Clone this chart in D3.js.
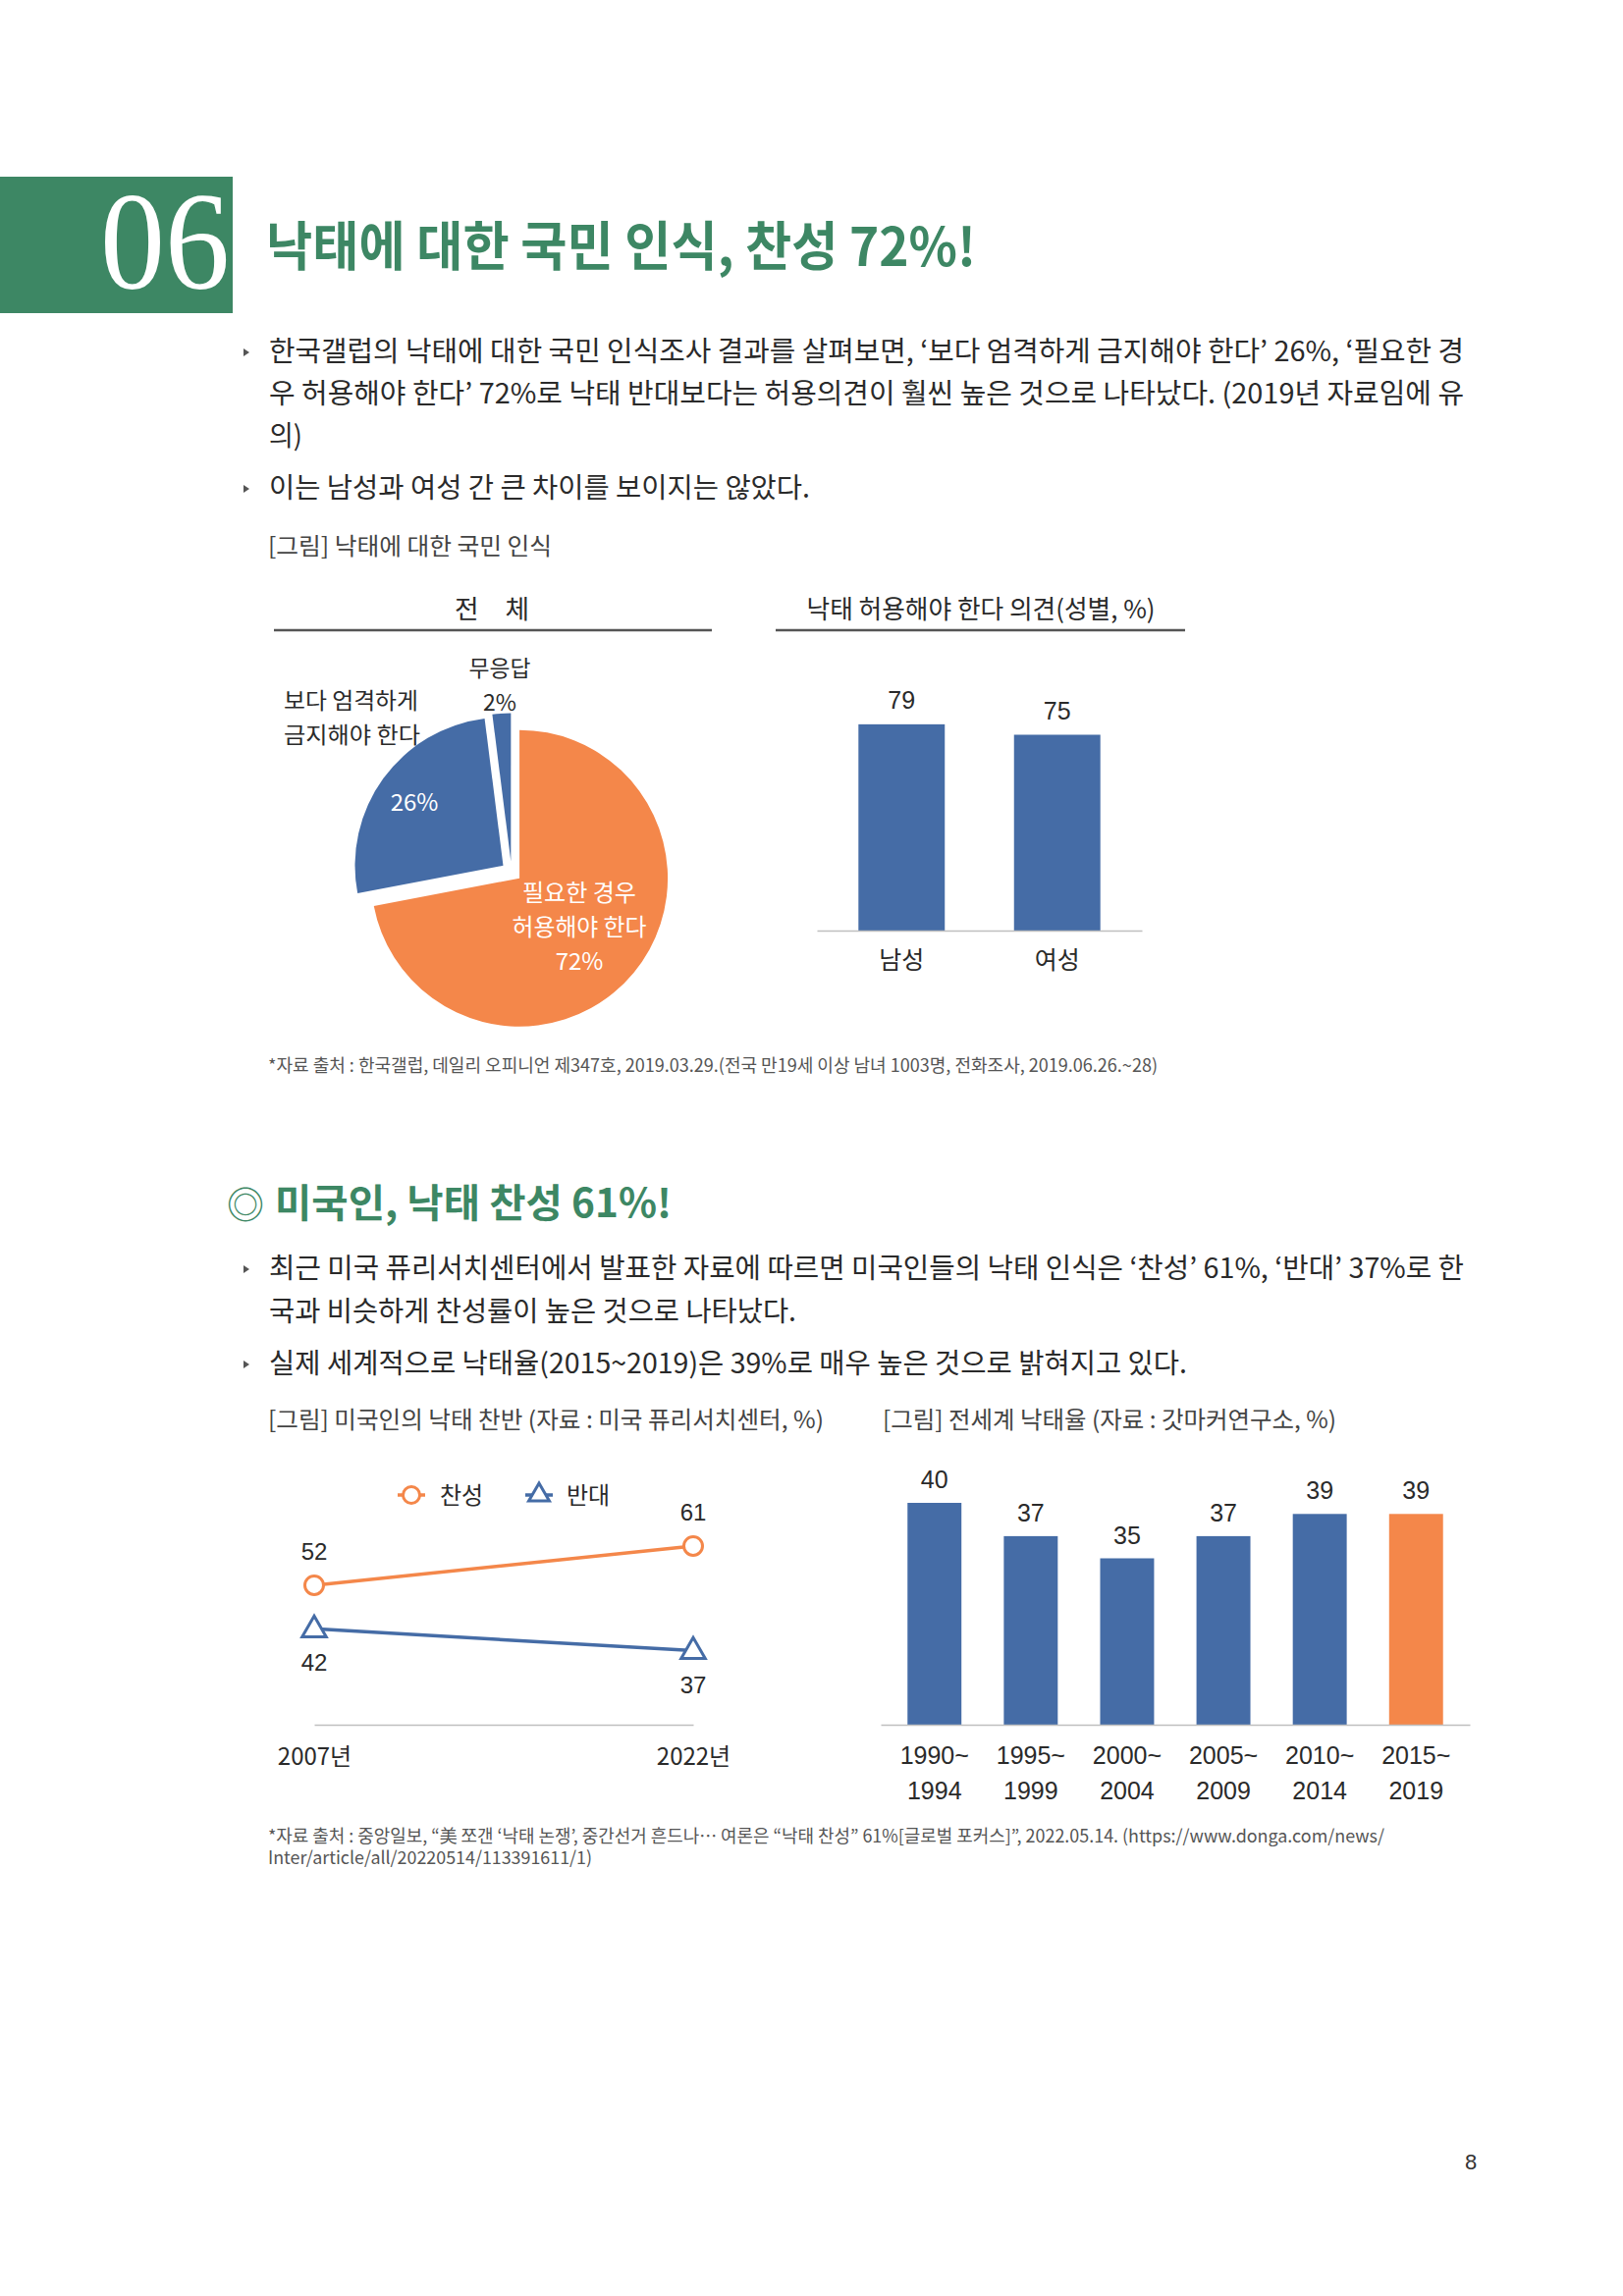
<!DOCTYPE html>
<html><head><meta charset="utf-8">
<script src="https://cdn.jsdelivr.net/npm/d3@7"></script>
<style>
html,body{margin:0;padding:0;background:#fff;}
svg{display:block;}
</style></head>
<body>
<svg id="page" width="1653" height="2339" xmlns="http://www.w3.org/2000/svg"></svg>
<script>
// ---------------- DATA ----------------
const pieCategories = ["필요한 경우 허용해야 한다", "보다 엄격하게 금지해야 한다", "무응답"];
const pieValues = [72, 26, 2];
const genderCategories = ["남성", "여성"];
const genderValues = [79, 75];
const lineYears = ["2007년", "2022년"];
const lineSeries = ["찬성", "반대"];
const favorValues = [52, 61];
const opposeValues = [42, 37];
const worldPeriodStart = ["1990~", "1995~", "2000~", "2005~", "2010~", "2015~"];
const worldPeriodEnd = ["1994", "1999", "2004", "2009", "2014", "2019"];
const worldValues = [40, 37, 35, 37, 39, 39];

const body1 = [
  "한국갤럽의 낙태에 대한 국민 인식조사 결과를 살펴보면, ‘보다 엄격하게 금지해야 한다’ 26%, ‘필요한 경",
  "우 허용해야 한다’ 72%로 낙태 반대보다는 허용의견이 훨씬 높은 것으로 나타났다. (2019년 자료임에 유",
  "의)",
  "이는 남성과 여성 간 큰 차이를 보이지는 않았다."
];
const body2 = [
  "최근 미국 퓨리서치센터에서 발표한 자료에 따르면 미국인들의 낙태 인식은 ‘찬성’ 61%, ‘반대’ 37%로 한",
  "국과 비슷하게 찬성률이 높은 것으로 나타났다.",
  "실제 세계적으로 낙태율(2015~2019)은 39%로 매우 높은 것으로 밝혀지고 있다."
];

// ---------------- STYLE ----------------
const svg = d3.select("#page");
const FONT = "'Noto Sans CJK KR','Noto Sans',sans-serif";
const NUMFONT = "'Liberation Sans','Noto Sans CJK KR',sans-serif";
const GREEN = "#3d8764", BLUE = "#456ca6", ORANGE = "#f4874a", TEXT = "#2a2a2a";

function txt(g, s, x, y, o = {}) {
  const t = g.append("text").attr("x", x).attr("y", y).text(s)
    .attr("font-family", o.ff || FONT).attr("font-size", o.fs || 28)
    .attr("fill", o.fill || TEXT).attr("text-anchor", o.anchor || "start");
  if (o.fw) t.attr("font-weight", o.fw);
  if (o.len) t.attr("textLength", o.len).attr("lengthAdjust", "spacingAndGlyphs");
  return t;
}
function bullet(g, x, base) {
  const c = base - 9;
  g.append("path").attr("d", `M${x},${c - 4}L${x + 6},${c}L${x},${c + 4}Z`).attr("fill", "#555");
}

// ---------------- HEADER ----------------
svg.append("rect").attr("x", 0).attr("y", 180).attr("width", 237).attr("height", 139).attr("fill", GREEN);
txt(svg, "06", 102, 294, { ff: "'Liberation Serif',serif", fs: 141, fill: "#fff", len: 132 });
txt(svg, "낙태에 대한 국민 인식, 찬성 72%!", 271, 271, { fs: 54, fw: 700, fill: GREEN, len: 723 });

// body text section 1
const b1y = [368, 411, 454, 507], b1w = [1217, 1217, 34, 551];
body1.forEach((s, i) => {
  if (i === 0 || i === 3) bullet(svg, 248, b1y[i]);
  txt(svg, s, 274, b1y[i], { fs: 28, len: b1w[i] });
});
txt(svg, "[그림] 낙태에 대한 국민 인식", 273, 565, { fs: 24, fill: "#444", len: 289 });

// ---------------- PIE ----------------
const gp = svg.append("g");
txt(gp, "전　체", 501, 630, { fs: 26, anchor: "middle", len: 76 });
gp.append("line").attr("x1", 279).attr("x2", 725).attr("y1", 642).attr("y2", 642)
  .attr("stroke", "#555").attr("stroke-width", 2.5);
const pcx = 521, pcy = 888, pr = 151, explode = 10.5;
const pie = d3.pie().sort(null).value(d => d)(pieValues);
const arc = d3.arc().innerRadius(0).outerRadius(pr);
const pieColors = [ORANGE, BLUE, BLUE];
gp.selectAll("path.slice").data(pie).join("path").attr("class", "slice")
  .attr("d", arc).attr("fill", (d, i) => pieColors[i])
  .attr("transform", d => {
    const m = (d.startAngle + d.endAngle) / 2;
    return `translate(${pcx + Math.sin(m) * explode},${pcy - Math.cos(m) * explode})`;
  });
// labels
[["필요한 경우", 918, 116], ["허용해야 한다", 953, 137], [pieValues[0] + "%", 988, 0]].forEach(([s, y, w]) =>
  txt(gp, s, 590, y, { fs: 24, fill: "#fff", anchor: "middle", len: w || null }));
txt(gp, pieValues[1] + "%", 422, 826, { fs: 24, fill: "#fff", anchor: "middle" });
txt(gp, "보다 엄격하게", 289, 722, { fs: 23, len: 137 });
txt(gp, "금지해야 한다", 289, 757, { fs: 23, len: 139 });
txt(gp, pieCategories[2], 509, 689, { fs: 23, anchor: "middle", len: 63 });
txt(gp, pieValues[2] + "%", 509, 724, { fs: 23, anchor: "middle" });

// ---------------- GENDER BARS ----------------
const gg = svg.append("g");
txt(gg, "낙태 허용해야 한다 의견(성별, %)", 999, 630, { fs: 26, anchor: "middle", len: 355 });
gg.append("line").attr("x1", 790).attr("x2", 1207).attr("y1", 642).attr("y2", 642)
  .attr("stroke", "#555").attr("stroke-width", 2.5);
const gx = d3.scaleBand().domain(genderCategories).range([832, 1163]).paddingInner(0.445).paddingOuter(0.267);
const gy = d3.scaleLinear().domain([0, 100]).range([948, 682]);
gg.selectAll("rect").data(genderValues).join("rect")
  .attr("x", (d, i) => gx(genderCategories[i])).attr("width", gx.bandwidth())
  .attr("y", d => gy(d)).attr("height", d => gy(0) - gy(d)).attr("fill", BLUE);
gg.selectAll("text.v").data(genderValues).join("text").attr("class", "v")
  .attr("x", (d, i) => gx(genderCategories[i]) + gx.bandwidth() / 2).attr("y", d => gy(d) - 16)
  .attr("text-anchor", "middle").attr("font-family", NUMFONT).attr("font-size", 25).attr("fill", TEXT)
  .text(d => d);
const gax = gg.append("g").attr("transform", `translate(0,${gy(0)})`)
  .call(d3.axisBottom(gx).tickSize(0).tickSizeOuter(0).tickPadding(0));
gax.select(".domain").attr("stroke", "#bfbfbf").attr("stroke-width", 1.5);
gax.selectAll("text").attr("dy", null).attr("y", 39).attr("font-family", FONT).attr("font-size", 25).attr("fill", TEXT);

txt(svg, "*자료 출처 : 한국갤럽, 데일리 오피니언 제347호, 2019.03.29.(전국 만19세 이상 남녀 1003명, 전화조사, 2019.06.26.~28)",
  273, 1092, { fs: 18, fill: "#555", len: 906 });

// ---------------- SECTION 2 ----------------
txt(svg, "◎", 231, 1241, { fs: 38, fill: GREEN });
txt(svg, "미국인, 낙태 찬성 61%!", 280, 1240, { fs: 40, fw: 700, fill: GREEN, len: 404 });
const b2y = [1302, 1346, 1399], b2w = [1217, 537, 935];
body2.forEach((s, i) => {
  if (i !== 1) bullet(svg, 248, b2y[i]);
  txt(svg, s, 274, b2y[i], { fs: 28, len: b2w[i] });
});
txt(svg, "[그림] 미국인의 낙태 찬반 (자료 : 미국 퓨리서치센터, %)", 273, 1455, { fs: 24, fill: "#444", len: 566 });
txt(svg, "[그림] 전세계 낙태율 (자료 : 갓마커연구소, %)", 899, 1455, { fs: 24, fill: "#444", len: 462 });

// ---------------- LINE CHART ----------------
const gl = svg.append("g");
const lx = d3.scalePoint().domain(lineYears).range([320, 706]);
const ly = d3.scaleLinear().domain([20, 70]).range([1757, 1535]);
const lax = gl.append("g").attr("transform", `translate(0,${ly(20)})`)
  .call(d3.axisBottom(lx).tickSize(0).tickSizeOuter(0).tickPadding(0));
lax.select(".domain").attr("stroke", "#bfbfbf").attr("stroke-width", 1.5);
lax.selectAll("text").attr("dy", null).attr("y", 41).attr("font-family", FONT).attr("font-size", 24).attr("fill", TEXT);

const lineGen = d3.line().x((d, i) => lx(lineYears[i])).y(d => ly(d));
const triPath = d3.symbol().type(d3.symbolTriangle).size(260);
const series = [
  { name: lineSeries[0], vals: favorValues, color: ORANGE, mark: "circle", dy: -26 },
  { name: lineSeries[1], vals: opposeValues, color: BLUE, mark: "tri", dy: 43 }
];
series.forEach(s => {
  gl.append("path").attr("d", lineGen(s.vals)).attr("fill", "none").attr("stroke", s.color).attr("stroke-width", 3.5);
  s.vals.forEach((v, i) => {
    const x = lx(lineYears[i]), y = ly(v);
    if (s.mark === "circle") gl.append("circle").attr("cx", x).attr("cy", y).attr("r", 9.5)
      .attr("fill", "#fff").attr("stroke", s.color).attr("stroke-width", 3);
    else gl.append("path").attr("d", triPath()).attr("transform", `translate(${x},${y + 1})`)
      .attr("fill", "#fff").attr("stroke", s.color).attr("stroke-width", 3);
    txt(gl, v, x, y + s.dy, { ff: NUMFONT, fs: 24, anchor: "middle" });
  });
});
// legend
const legendPos = [{ x: 419, tx: 448 }, { x: 549, tx: 577 }];
series.forEach((s, k) => {
  const p = legendPos[k], y = 1523;
  gl.append("line").attr("x1", p.x - 14).attr("x2", p.x + 14).attr("y1", y).attr("y2", y)
    .attr("stroke", s.color).attr("stroke-width", 3.5);
  if (s.mark === "circle") gl.append("circle").attr("cx", p.x).attr("cy", y).attr("r", 8.5)
    .attr("fill", "#fff").attr("stroke", s.color).attr("stroke-width", 3);
  else gl.append("path").attr("d", d3.symbol().type(d3.symbolTriangle).size(190)()).attr("transform", `translate(${p.x},${y})`)
    .attr("fill", "#fff").attr("stroke", s.color).attr("stroke-width", 3);
  txt(gl, s.name, p.tx, 1532, { fs: 24 });
});

// ---------------- WORLD BARS ----------------
const gw = svg.append("g");
const wx = d3.scaleBand().domain(worldPeriodStart).range([897, 1497]).paddingInner(0.44).paddingOuter(0.278);
const wy = d3.scaleLinear().domain([20, 45]).range([1757, 1474.5]);
gw.selectAll("rect").data(worldValues).join("rect")
  .attr("x", (d, i) => wx(worldPeriodStart[i])).attr("width", wx.bandwidth())
  .attr("y", d => wy(d)).attr("height", d => wy(20) - wy(d))
  .attr("fill", (d, i) => i === worldValues.length - 1 ? ORANGE : BLUE);
gw.selectAll("text.v").data(worldValues).join("text").attr("class", "v")
  .attr("x", (d, i) => wx(worldPeriodStart[i]) + wx.bandwidth() / 2).attr("y", d => wy(d) - 15)
  .attr("text-anchor", "middle").attr("font-family", NUMFONT).attr("font-size", 25).attr("fill", TEXT)
  .text(d => d);
const wax = gw.append("g").attr("transform", `translate(0,${wy(20)})`)
  .call(d3.axisBottom(wx).tickSize(0).tickSizeOuter(0).tickPadding(0));
wax.select(".domain").attr("stroke", "#bfbfbf").attr("stroke-width", 1.5);
wax.selectAll("text").attr("dy", null).attr("y", 40).attr("font-family", NUMFONT).attr("font-size", 25).attr("fill", TEXT)
  .each(function (d, i) {
    const t = d3.select(this);
    t.append("tspan").attr("x", 0).attr("dy", 36).text(worldPeriodEnd[i]);
  });

// ---------------- FOOTER ----------------
txt(svg, "*자료 출처 : 중앙일보, “美 쪼갠 ‘낙태 논쟁’, 중간선거 흔드나… 여론은 “낙태 찬성” 61%[글로벌 포커스]”, 2022.05.14. (https://www.donga.com/news/",
  273, 1877, { fs: 18, fill: "#555", len: 1137 });
txt(svg, "Inter/article/all/20220514/113391611/1)", 273, 1899, { fs: 18, fill: "#555", len: 330 });
txt(svg, "8", 1498, 2210, { ff: NUMFONT, fs: 22, fill: "#333", anchor: "middle" });
</script>
</body></html>
